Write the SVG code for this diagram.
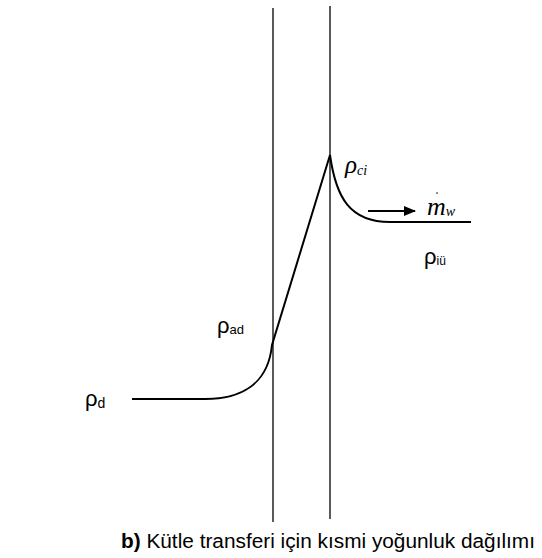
<svg xmlns="http://www.w3.org/2000/svg" width="542" height="558" viewBox="0 0 542 558">
<defs>
<style>
.ln{stroke:#000;fill:none}
.sans{font-family:"Liberation Sans",Arial,sans-serif;fill:#000}
.serif{font-family:"Liberation Serif","Times New Roman",serif;font-style:italic;fill:#000}
</style>
<marker id="ah" markerWidth="12" markerHeight="10" refX="11" refY="5" orient="auto" markerUnits="userSpaceOnUse"><path d="M0,0 L12,5 L0,10 Z" fill="#000"/></marker>
</defs>
<rect width="542" height="558" fill="#fff"/>
<g id="walls">
<line class="ln" x1="273" y1="8" x2="273" y2="522" stroke-width="1.3"/>
<line class="ln" x1="330" y1="6" x2="330" y2="519" stroke-width="1.3"/>
</g>
<g id="connectors">
<path class="ln" stroke-width="2" d="M132,399 L205,399 C240,399 268,385 272,345 L330,155 C336,198 350,222 390,222 L471,222"/>
<line class="ln" x1="368" y1="211" x2="415" y2="211" stroke-width="2" marker-end="url(#ah)"/>
</g>
<g id="labels">
<text class="serif" x="345" y="173" font-size="25">ρ<tspan font-size="14" dy="2">ci</tspan></text>
<text class="serif" x="427" y="215" font-size="26">m<tspan font-size="14" dy="1">w</tspan></text>
<circle cx="437" cy="193" r="0.8" fill="#000"/>
<text class="sans" x="424" y="264" font-size="22">ρ<tspan font-size="12" dy="1">iü</tspan></text>
<text class="sans" x="217" y="333" font-size="22">ρ<tspan font-size="13" dy="1">ad</tspan></text>
<text class="sans" x="85" y="406" font-size="22">ρ<tspan font-size="14" dy="2">d</tspan></text>
<text class="sans" x="121" y="548" font-size="20" textLength="414" lengthAdjust="spacingAndGlyphs"><tspan font-weight="bold">b)</tspan> Kütle transferi için kısmi yoğunluk dağılımı</text>
</g>
</svg>
